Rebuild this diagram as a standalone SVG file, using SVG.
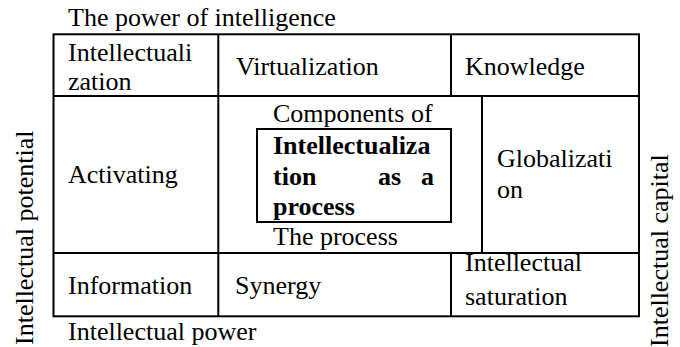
<svg xmlns="http://www.w3.org/2000/svg" width="680" height="347" viewBox="0 0 680 347">
  <!-- table frame and cell dividers; shared stroke set on the group -->
  <g id="connectors" stroke="#000" stroke-width="2" fill="none">
    <rect x="53.5" y="34.3" width="585.5" height="282"/>
    <line x1="53.5" y1="96" x2="639" y2="96"/>
    <line x1="53.5" y1="253" x2="639" y2="253"/>
    <line x1="218.3" y1="34.3" x2="218.3" y2="316.3"/>
    <line x1="451" y1="34.3" x2="451" y2="96"/>
    <line x1="451" y1="253" x2="451" y2="316.3"/>
    <line x1="482" y1="96" x2="482" y2="253"/>
  </g>

  <!-- axis captions -->
  <g id="top-caption"><text x="68" y="26" font-family="Times New Roman" font-size="26">The power of intelligence</text></g>
  <g id="bottom-caption"><text x="68" y="340" font-family="Times New Roman" font-size="26">Intellectual power</text></g>
  <g id="left-caption"><text transform="translate(33,345) rotate(-90)" font-family="Times New Roman" font-size="26">Intellectual potential</text></g>
  <g id="right-caption"><text transform="translate(668,347) rotate(-90)" font-family="Times New Roman" font-size="26">Intellectual capital</text></g>

  <!-- top row -->
  <g id="intellectualization">
    <text x="68" y="61" font-family="Times New Roman" font-size="26">Intellectuali</text>
    <text x="68" y="90" font-family="Times New Roman" font-size="26">zation</text>
  </g>
  <g id="virtualization"><text x="236" y="75" font-family="Times New Roman" font-size="26">Virtualization</text></g>
  <g id="knowledge"><text x="465" y="75" font-family="Times New Roman" font-size="26">Knowledge</text></g>

  <!-- middle row -->
  <g id="activating"><text x="68" y="183" font-family="Times New Roman" font-size="26">Activating</text></g>
  <g id="components">
    <text x="273" y="122" font-family="Times New Roman" font-size="26">Components of</text>
    <text x="273" y="245" font-family="Times New Roman" font-size="26">The process</text>
  </g>
  <g id="process">
    <rect x="257" y="129" width="194" height="93" fill="none" stroke="#000" stroke-width="2"/>
    <text x="273" y="154" font-family="Times New Roman" font-size="26" font-weight="bold">Intellectualiza</text>
    <text y="185" font-family="Times New Roman" font-size="26" font-weight="bold"><tspan x="273">tion</tspan><tspan x="378">as</tspan><tspan x="421">a</tspan></text>
    <text x="273" y="215" font-family="Times New Roman" font-size="26" font-weight="bold">process</text>
  </g>
  <g id="globalization">
    <text x="497" y="167" font-family="Times New Roman" font-size="26">Globalizati</text>
    <text x="497" y="198" font-family="Times New Roman" font-size="26">on</text>
  </g>

  <!-- bottom row -->
  <g id="information"><text x="68" y="294" font-family="Times New Roman" font-size="26">Information</text></g>
  <g id="synergy"><text x="235" y="294" font-family="Times New Roman" font-size="26">Synergy</text></g>
  <g id="saturation">
    <text x="465" y="271" font-family="Times New Roman" font-size="26">Intellectual</text>
    <text x="465" y="305" font-family="Times New Roman" font-size="26">saturation</text>
  </g>
</svg>
